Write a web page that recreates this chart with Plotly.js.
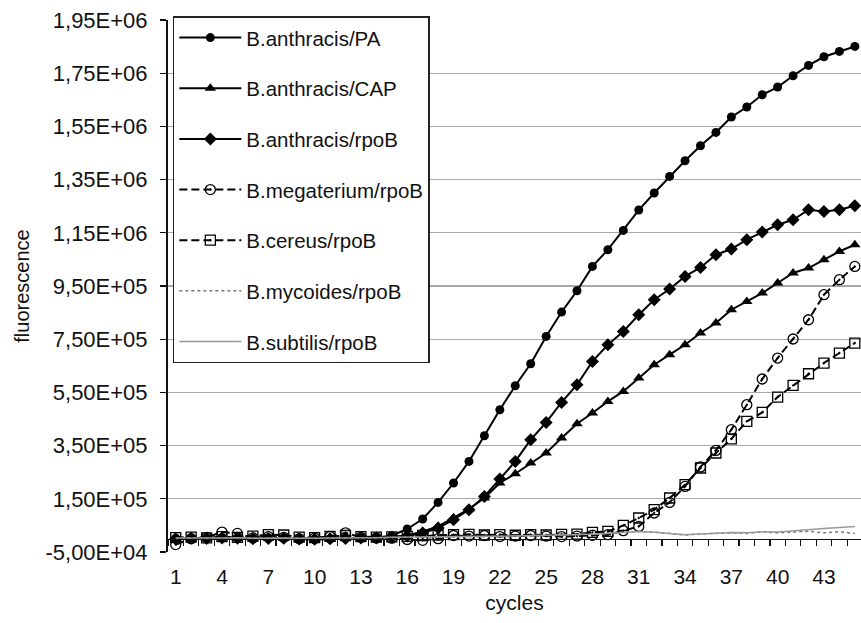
<!DOCTYPE html>
<html><head><meta charset="utf-8">
<script src="https://cdn.plot.ly/plotly-3.0.1.min.js"></script>
<style>html,body{margin:0;padding:0;background:#fff}#chart{width:861px;height:623px}</style>
</head><body><div id="chart"></div>
<script>
const cycles = [1,2,3,4,5,6,7,8,9,10,11,12,13,14,15,16,17,18,19,20,21,22,23,24,25,26,27,28,29,30,31,32,33,34,35,36,37,38,39,40,41,42,43,44,45];

const anthracisPA = [2000,1000,3000,4000,2000,0,3000,1000,-2000,-3000,-1000,2000,3000,5000,11000,
  36500,74000,136500,209400,290600,387000,484900,575100,657800,760400,852000,932000,1023600,1086400,1158900,
  1235600,1299500,1361900,1420900,1477300,1527300,1585200,1622800,1669000,1698000,1740400,1779200,1811800,1831800,1850600];

const anthracisCAP = [1000,2000,0,3000,1000,-1000,2000,3000,0,-2000,-1000,1000,2000,4000,6000,
  12000,27400,46200,77800,111600,153000,209400,244300,284600,322100,378500,432300,472500,516100,553700,
  604000,654100,691700,729200,773200,810800,860800,892000,923600,961200,998800,1017600,1048800,1080000,1105200];

const anthracisRpoB = [0,2000,1000,3000,2000,0,1000,2000,-1000,-2000,0,1000,3000,3000,5000,
  10000,21400,40000,71400,109000,159000,224400,290600,372100,437200,512400,579000,666500,729200,779300,
  842000,898400,938600,986000,1019800,1067600,1089000,1124000,1152900,1180300,1199100,1236700,1230300,1236700,1251700];

const megateriumRpoB = [-22000,0,5000,25000,20000,3000,8000,5000,0,2000,8000,22000,5000,3000,2000,
  -3000,-6000,0,12000,10000,12000,8000,10000,12000,10000,8000,10000,13000,15000,30000,
  46200,96600,136500,196600,269500,331900,409700,503700,600300,679200,750700,823200,917200,973600,1023600];

const cereusRpoB = [4000,6000,3000,8000,5000,10000,15000,14000,6000,4000,9000,12000,8000,6000,7000,
  9000,12000,14000,15000,16000,14000,15000,13000,15000,14000,16000,17000,23700,27400,50000,
  77800,109000,153000,203000,265800,322100,375000,441000,474800,532600,576300,620200,660400,698000,735600];

const mycoidesRpoB = [2000,3000,2000,4000,3000,2000,3000,4000,2000,1000,2000,3000,4000,3000,4000,
  5000,6000,5000,7000,8000,7000,9000,10000,9000,11000,12000,14000,16000,20000,25000,
  27000,25000,20000,14000,18000,20000,22000,20000,25000,22000,26000,28000,22000,26000,20000];

const subtilisRpoB = [3000,2000,3000,3000,4000,2000,3000,3000,2000,2000,3000,3000,4000,4000,5000,
  6000,6000,7000,7000,8000,9000,9000,10000,11000,12000,13000,15000,17000,20000,24000,
  27000,24000,19000,15000,18000,21000,23000,22000,26000,25000,30000,34000,38000,42000,46000];

const seriesNames = ['B.anthracis/PA','B.anthracis/CAP','B.anthracis/rpoB','B.megaterium/rpoB','B.cereus/rpoB','B.mycoides/rpoB','B.subtilis/rpoB'];

const yTickVals = [-50000,150000,350000,550000,750000,950000,1150000,1350000,1550000,1750000,1950000];
const yTickText = ['-5,00E+04','1,50E+05','3,50E+05','5,50E+05','7,50E+05','9,50E+05','1,15E+06','1,35E+06','1,55E+06','1,75E+06','1,95E+06'];
const yGridVals = [150000,350000,550000,750000,950000,1150000,1350000,1550000,1750000];
const xTickVals = [1,4,7,10,13,16,19,22,25,28,31,34,37,40,43];
const xTickText = ['1','4','7','10','13','16','19','22','25','28','31','34','37','40','43'];

const yMin = -50000, yMax = 1950000;
const xMin = 0.5, xMax = 45.4;
const FONT = 'Arial, "Liberation Sans", sans-serif';

function tr(name, y, i, mode, marker, line, second) {
  const t = {x: cycles, y: y, name: name, mode: mode, legendgroup: 'g' + i, line: line, hoverinfo: 'x+y'};
  if (marker) t.marker = marker;
  if (second) { t.xaxis = 'x2'; t.yaxis = 'y2'; }
  return t;
}

const data = [
  tr(seriesNames[0], anthracisPA, 1, 'lines+markers', {symbol: 'circle', size: 9, color: '#000'}, {color: '#000', width: 2}),
  tr(seriesNames[1], anthracisCAP, 2, 'lines+markers', {symbol: 'triangle-up', size: 10, color: '#000'}, {color: '#000', width: 2}),
  tr(seriesNames[2], anthracisRpoB, 3, 'lines+markers', {symbol: 'diamond', size: 10, color: '#000'}, {color: '#000', width: 2}),
  tr(seriesNames[3], megateriumRpoB, 4, 'lines+markers', {symbol: 'circle-open-dot', size: 10, color: '#000', line: {width: 1.3, color: '#000'}}, {color: '#000', width: 2, dash: '8px,4px'}),
  tr(seriesNames[4], cereusRpoB, 5, 'lines+markers', {symbol: 'square-open-dot', size: 10, color: '#000', line: {width: 1.3, color: '#000'}}, {color: '#000', width: 2, dash: '8px,4px'}),
  tr(seriesNames[5], mycoidesRpoB, 6, 'lines', null, {color: '#777', width: 1.5, dash: 'dot'}),
  tr(seriesNames[6], subtilisRpoB, 7, 'lines', null, {color: '#999', width: 1.5}, true)
];

const layout = {
  width: 861, height: 623,
  margin: {l: 168, r: 0, t: 20, b: 71},
  paper_bgcolor: '#fff', plot_bgcolor: '#fff',
  font: {family: FONT, size: 20, color: '#111'},
  showlegend: true,
  xaxis: {
    range: [xMin, xMax],
    showline: false, showgrid: false, zeroline: false,
    tickmode: 'array', tickvals: xTickVals, ticktext: xTickText,
    ticks: 'outside', ticklen: 6, tickcolor: 'rgba(0,0,0,0)',
    tickfont: {family: FONT, size: 21, color: '#111'},
    title: {text: 'cycles', font: {family: FONT, size: 21, color: '#111'}, standoff: 8}
  },
  xaxis2: {
    range: [xMin, xMax], overlaying: 'x',
    anchor: 'free', position: (0 - yMin) / (yMax - yMin),
    showline: true, linecolor: '#111', linewidth: 1.5,
    showgrid: false, zeroline: false, showticklabels: false,
    tickmode: 'linear', tick0: 0.5, dtick: 1,
    ticks: 'outside', ticklen: 6, tickcolor: '#111', tickwidth: 1.2
  },
  yaxis: {
    range: [yMin, yMax],
    showline: true, linecolor: '#111', linewidth: 2,
    showgrid: false, zeroline: false,
    tickmode: 'array', tickvals: yTickVals, ticktext: yTickText,
    ticks: 'outside', ticklen: 6, tickcolor: '#111', tickwidth: 1.2,
    ticklabelstandoff: 8,
    tickfont: {family: FONT, size: 22, color: '#111'},
    title: {text: 'fluorescence', font: {family: FONT, size: 20, color: '#111'}, standoff: 10}
  },
  yaxis2: {
    range: [yMin, yMax], overlaying: 'y', side: 'left',
    showline: false, zeroline: false, showticklabels: false, ticks: '',
    tickmode: 'array', tickvals: yGridVals,
    showgrid: true, gridcolor: '#a8a8a8', gridwidth: 1.2
  },
  legend: {
    x: 0.007, xanchor: 'left', y: 1.007, yanchor: 'top',
    bgcolor: '#fff', bordercolor: '#222', borderwidth: 1.5,
    font: {family: FONT, size: 20.5, color: '#111'},
    traceorder: 'grouped', tracegroupgap: 21, itemwidth: 62,
    entrywidth: 212, maxheight: 600
  }
};

Plotly.newPlot('chart', data, layout, {displayModeBar: false, staticPlot: true});
</script>
</body></html>
